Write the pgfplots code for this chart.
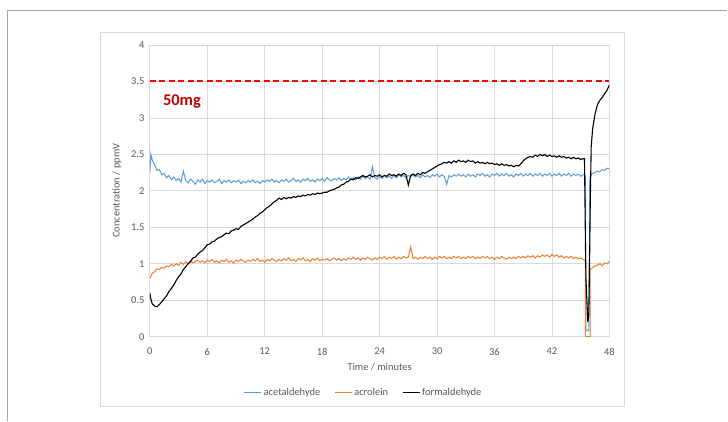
\documentclass[border=0pt]{standalone}
\usepackage{fontspec}
\setmainfont{Carlito}
\usepackage{pgfplots}
\usepackage{pgfplotstable}
\pgfplotsset{compat=1.18}
\definecolor{acet}{HTML}{5B9BD5}
\definecolor{acro}{HTML}{ED7D31}
\definecolor{txt}{HTML}{595959}
\definecolor{grd}{HTML}{D9D9D9}
\definecolor{darkred}{HTML}{C00000}
\definecolor{frameouter}{HTML}{A6A6A6}

\pgfplotstableread{
x acet acro form
0 2.25 0.80 0.60
0.1 2.50 0.83 0.52
0.25 2.42 0.87 0.45
0.5 2.36 0.89 0.42
0.75 2.28 0.93 0.41
1 2.29 0.92 0.44
1.25 2.22 0.95 0.48
1.5 2.24 0.94 0.52
1.75 2.18 0.97 0.56
2 2.21 0.96 0.62
2.25 2.15 0.99 0.66
2.5 2.19 0.97 0.71
2.75 2.14 1.00 0.77
3 2.17 0.98 0.82
3.25 2.12 1.02 0.86
3.5 2.27 0.99 0.92
3.75 2.14 1.03 0.96
4 2.11 1.00 1.00
4.25 2.16 1.04 1.03
4.5 2.13 1.01 1.08
4.75 2.09 1.03 1.09
5 2.15 1.05 1.13
5.25 2.12 1.02 1.16
5.5 2.16 1.04 1.18
5.75 2.10 1.01 1.22
6 2.14 1.05 1.26
6.25 2.12 1.03 1.27
6.5 2.15 1.06 1.30
6.75 2.11 1.02 1.31
7 2.13 1.04 1.34
7.25 2.16 1.01 1.36
7.5 2.10 1.05 1.37
7.75 2.14 1.03 1.40
8 2.12 1.06 1.42
8.25 2.15 1.02 1.41
8.5 2.11 1.04 1.45
8.75 2.14 1.01 1.46
9 2.12 1.05 1.48
9.25 2.15 1.03 1.47
9.5 2.10 1.06 1.51
9.75 2.13 1.04 1.53
10 2.11 1.02 1.55
10.25 2.14 1.05 1.57
10.5 2.12 1.03 1.59
10.75 2.15 1.06 1.61
11 2.11 1.04 1.64
11.25 2.13 1.07 1.66
11.5 2.10 1.03 1.69
11.75 2.14 1.05 1.71
12 2.12 1.02 1.74
12.25 2.15 1.06 1.77
12.5 2.13 1.04 1.79
12.75 2.16 1.07 1.82
13 2.12 1.05 1.85
13.25 2.14 1.03 1.87
13.5 2.11 1.06 1.90
13.75 2.15 1.04 1.88
14 2.13 1.07 1.91
14.25 2.16 1.05 1.89
14.5 2.12 1.08 1.91
14.75 2.14 1.04 1.90
15 2.17 1.06 1.92
15.25 2.13 1.03 1.91
15.5 2.15 1.07 1.93
15.75 2.12 1.05 1.92
16 2.16 1.08 1.94
16.25 2.14 1.04 1.93
16.5 2.17 1.06 1.95
16.75 2.13 1.03 1.94
17 2.15 1.07 1.96
17.25 2.12 1.05 1.95
17.5 2.16 1.08 1.97
17.75 2.14 1.04 1.96
18 2.17 1.06 1.97
18.25 2.13 1.05 1.98
18.5 2.18 1.07 1.98
18.75 2.15 1.04 2.00
19 2.14 1.06 2.01
19.25 2.17 1.08 2.02
19.5 2.15 1.05 2.04
19.75 2.18 1.07 2.05
20 2.14 1.04 2.08
20.25 2.17 1.07 2.09
20.5 2.15 1.05 2.12
20.75 2.19 1.08 2.13
21 2.16 1.06 2.16
21.25 2.18 1.09 2.15
21.5 2.15 1.06 2.18
21.75 2.19 1.08 2.17
22 2.16 1.05 2.19
22.25 2.20 1.08 2.21
22.5 2.17 1.06 2.19
22.75 2.19 1.09 2.20
23 2.16 1.07 2.22
23.25 2.33 1.05 2.19
23.5 2.18 1.08 2.21
23.75 2.16 1.06 2.20
24 2.20 1.09 2.22
24.25 2.17 1.07 2.19
24.5 2.21 1.10 2.21
24.75 2.18 1.06 2.20
25 2.20 1.09 2.23
25.25 2.17 1.07 2.21
25.5 2.21 1.10 2.22
25.75 2.18 1.06 2.20
26 2.22 1.09 2.23
26.25 2.19 1.07 2.21
26.5 2.21 1.10 2.24
26.75 2.18 1.08 2.22
27 2.21 1.09 2.08
27.25 2.19 1.23 2.21
27.5 2.22 1.07 2.23
27.75 2.19 1.09 2.21
28 2.21 1.06 2.24
28.25 2.18 1.09 2.22
28.5 2.22 1.07 2.25
28.75 2.19 1.10 2.24
29 2.21 1.07 2.26
29.25 2.18 1.09 2.28
29.5 2.22 1.06 2.30
29.75 2.20 1.09 2.32
30 2.23 1.07 2.34
30.25 2.19 1.10 2.36
30.5 2.22 1.08 2.37
30.75 2.20 1.10 2.39
31 2.09 1.07 2.38
31.25 2.21 1.09 2.40
31.5 2.19 1.07 2.38
31.75 2.22 1.10 2.41
32 2.20 1.08 2.39
32.25 2.23 1.10 2.42
32.5 2.20 1.07 2.40
32.75 2.22 1.09 2.41
33 2.19 1.07 2.39
33.25 2.23 1.10 2.42
33.5 2.20 1.08 2.40
33.75 2.22 1.10 2.41
34 2.19 1.07 2.38
34.25 2.23 1.09 2.40
34.5 2.21 1.07 2.38
34.75 2.24 1.10 2.39
35 2.20 1.08 2.37
35.25 2.22 1.10 2.39
35.5 2.19 1.07 2.37
35.75 2.23 1.09 2.38
36 2.21 1.06 2.36
36.25 2.24 1.09 2.37
36.5 2.20 1.07 2.35
36.75 2.23 1.10 2.37
37 2.21 1.08 2.35
37.25 2.24 1.06 2.36
37.5 2.20 1.09 2.34
37.75 2.22 1.07 2.35
38 2.19 1.09 2.33
38.25 2.23 1.07 2.35
38.5 2.21 1.10 2.34
38.75 2.24 1.08 2.37
39 2.20 1.10 2.41
39.25 2.23 1.08 2.44
39.5 2.21 1.11 2.46
39.75 2.24 1.09 2.47
40 2.20 1.11 2.46
40.25 2.23 1.08 2.49
40.5 2.21 1.11 2.47
40.75 2.24 1.09 2.50
41 2.20 1.12 2.48
41.25 2.23 1.10 2.50
41.5 2.21 1.12 2.47
41.75 2.24 1.09 2.49
42 2.20 1.13 2.47
42.25 2.23 1.10 2.48
42.5 2.21 1.12 2.46
42.75 2.24 1.09 2.48
43 2.20 1.11 2.46
43.25 2.23 1.08 2.47
43.5 2.21 1.10 2.45
43.75 2.24 1.08 2.46
44 2.20 1.10 2.44
44.25 2.23 1.07 2.46
44.5 2.21 1.09 2.44
44.75 2.23 1.07 2.45
45 2.20 1.08 2.43
45.25 2.22 1.06 2.44
45.4 2.22 1.05 2.44
45.5 2.20 1.04 1.30
45.5 2.20 0.00 1.30
45.55 0.10 0.00 0.80
45.75 0.08 0.00 0.20
45.85 0.09 0.00 0.30
45.95 2.15 0.00 1.20
46.0 2.20 0.00 1.80
46.0 2.20 0.92 1.80
46.1 2.22 0.93 2.60
46.25 2.24 0.95 2.85
46.5 2.25 0.97 3.05
46.75 2.27 0.98 3.18
47 2.26 1.00 3.24
47.25 2.29 0.97 3.28
47.5 2.28 1.01 3.33
47.75 2.31 1.00 3.38
48 2.30 1.03 3.45
}\data

\pgfplotstableread{
x y
0 3.5
48 3.5
}\limit

\begin{document}
\begin{tikzpicture}[x=1bp,y=1bp]
\path (0,0) rectangle (728,421);
\draw[draw=frameouter, line width=1.5bp] (7.5,0) -- (7.5,410.5) -- (728,410.5);
\draw[draw=grd, line width=0.8bp] (101,14) rectangle (625,389);
\begin{axis}[
  at={(150bp,84bp)}, anchor=south west,
  scale only axis, width=460bp, height=292bp,
  xmin=0, xmax=48, ymin=0, ymax=4,
  xtick={0,6,...,48}, ytick={0,0.5,...,4},
  yticklabels={0,0.5,1,1.5,2,2.5,3,3.5,4},
  major tick length=0pt,
  grid=major,
  grid style={draw=grd, line width=0.75bp},
  axis line style={draw=grd, line width=0.75bp},
  tick label style={font=\fontsize{10.5}{12}\selectfont, text=txt},
  /pgf/number format/assume math mode=true,
  xticklabel style={yshift=-8bp},
  yticklabel style={xshift=-2bp},
  xlabel={Time / minutes},
  ylabel={Concentration / ppmV},
  label style={font=\fontsize{10.5}{12}\selectfont, text=txt},
  xlabel style={at={(axis description cs:0.5,-0.103)}, anchor=center},
  ylabel style={at={(axis description cs:-0.0717,0.5)}, anchor=center},
  legend style={draw=none, fill=none, at={(axis description cs:0.465,-0.192)}, anchor=center,
    font=\fontsize{10.5}{12}\selectfont, text=txt,
    /tikz/every even column/.append style={column sep=12bp}},
  legend columns=3,
  legend image code/.code={\draw[#1] (0bp,0bp) -- (17bp,0bp);},
]
\addplot[acet, line width=1bp] table[x=x, y=acet] {\data};
\addlegendentry{acetaldehyde}
\addplot[acro, line width=1bp] table[x=x, y=acro] {\data};
\addlegendentry{acrolein}
\addplot[black, line width=1.1bp] table[x=x, y=form] {\data};
\addlegendentry{formaldehyde}
\addplot[forget plot, red, line width=2bp, dash pattern=on 6bp off 3.5bp] table[x=x, y=y] {\limit};
\node[anchor=west, inner sep=0pt, font=\bfseries\fontsize{16.5}{19}\selectfont, text=darkred] at (axis cs:1.36,3.23) {50mg};
\end{axis}
\end{tikzpicture}
\end{document}
